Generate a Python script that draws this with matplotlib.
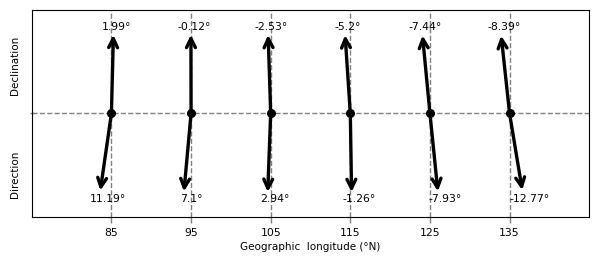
import numpy as np
import matplotlib.pyplot as plt

longitudes = [85, 95, 105, 115, 125, 135]
declination = [1.99, -0.12, -2.53, -5.2, -7.44, -8.39]
direction = [11.19, 7.1, 2.94, -1.26, -7.93, -12.77]

fig = plt.figure(figsize=(6, 2.62), dpi=100)
ax = fig.add_axes([0.053, 0.172, 0.929, 0.79])

ax.set_xlim(75, 145)
ax.set_ylim(-1, 1)

for lon in longitudes:
    ax.axvline(lon, color='gray', ls='--', lw=1, zorder=0)
ax.axhline(0, color='gray', ls='--', lw=1, zorder=0)

k = 7.2  # horizontal stretch so the tilt reads in pixels
length = 0.76
fs = 7.8

for lon, dec, dirn in zip(longitudes, declination, direction):
    # declination arrow, pointing up
    tx = lon + k * np.sin(np.radians(dec))
    ty = length * np.cos(np.radians(dec))
    ax.annotate('', xy=(tx, ty), xytext=(lon, 0),
                arrowprops=dict(arrowstyle='->, head_length=0.65, head_width=0.32',
                                lw=2.4, color='black', shrinkA=0, shrinkB=0))
    ax.text(tx + 0.35, 0.84, f'{dec}°', ha='center', va='center', fontsize=fs)

    # direction arrow, pointing down
    bx = lon - k * np.sin(np.radians(dirn))
    by = -length * np.cos(np.radians(dirn))
    ax.annotate('', xy=(bx, by), xytext=(lon, 0),
                arrowprops=dict(arrowstyle='->, head_length=0.65, head_width=0.32',
                                lw=2.4, color='black', shrinkA=0, shrinkB=0))
    ax.text(bx + 0.9, -0.83, f'{dirn}°', ha='center', va='center', fontsize=fs)

ax.plot(longitudes, [0] * len(longitudes), 'o', color='black', ms=5.5, zorder=5)

ax.set_xticks(longitudes)
ax.set_xticklabels([str(v) for v in longitudes], fontsize=fs)
ax.set_yticks([0])
ax.set_yticklabels([''])
ax.tick_params(axis='x', length=4, width=1, color='gray', pad=4)
ax.tick_params(axis='y', length=3, width=1, color='gray', direction='inout')
ax.set_xlabel('Geographic  longitude (°N)', fontsize=7.5, labelpad=3)

fig.text(0.025, 0.75, 'Declination', rotation=90, ha='center', va='center', fontsize=7.5)
fig.text(0.025, 0.335, 'Direction', rotation=90, ha='center', va='center', fontsize=7.5)

fig.savefig('out.png', dpi=100)
